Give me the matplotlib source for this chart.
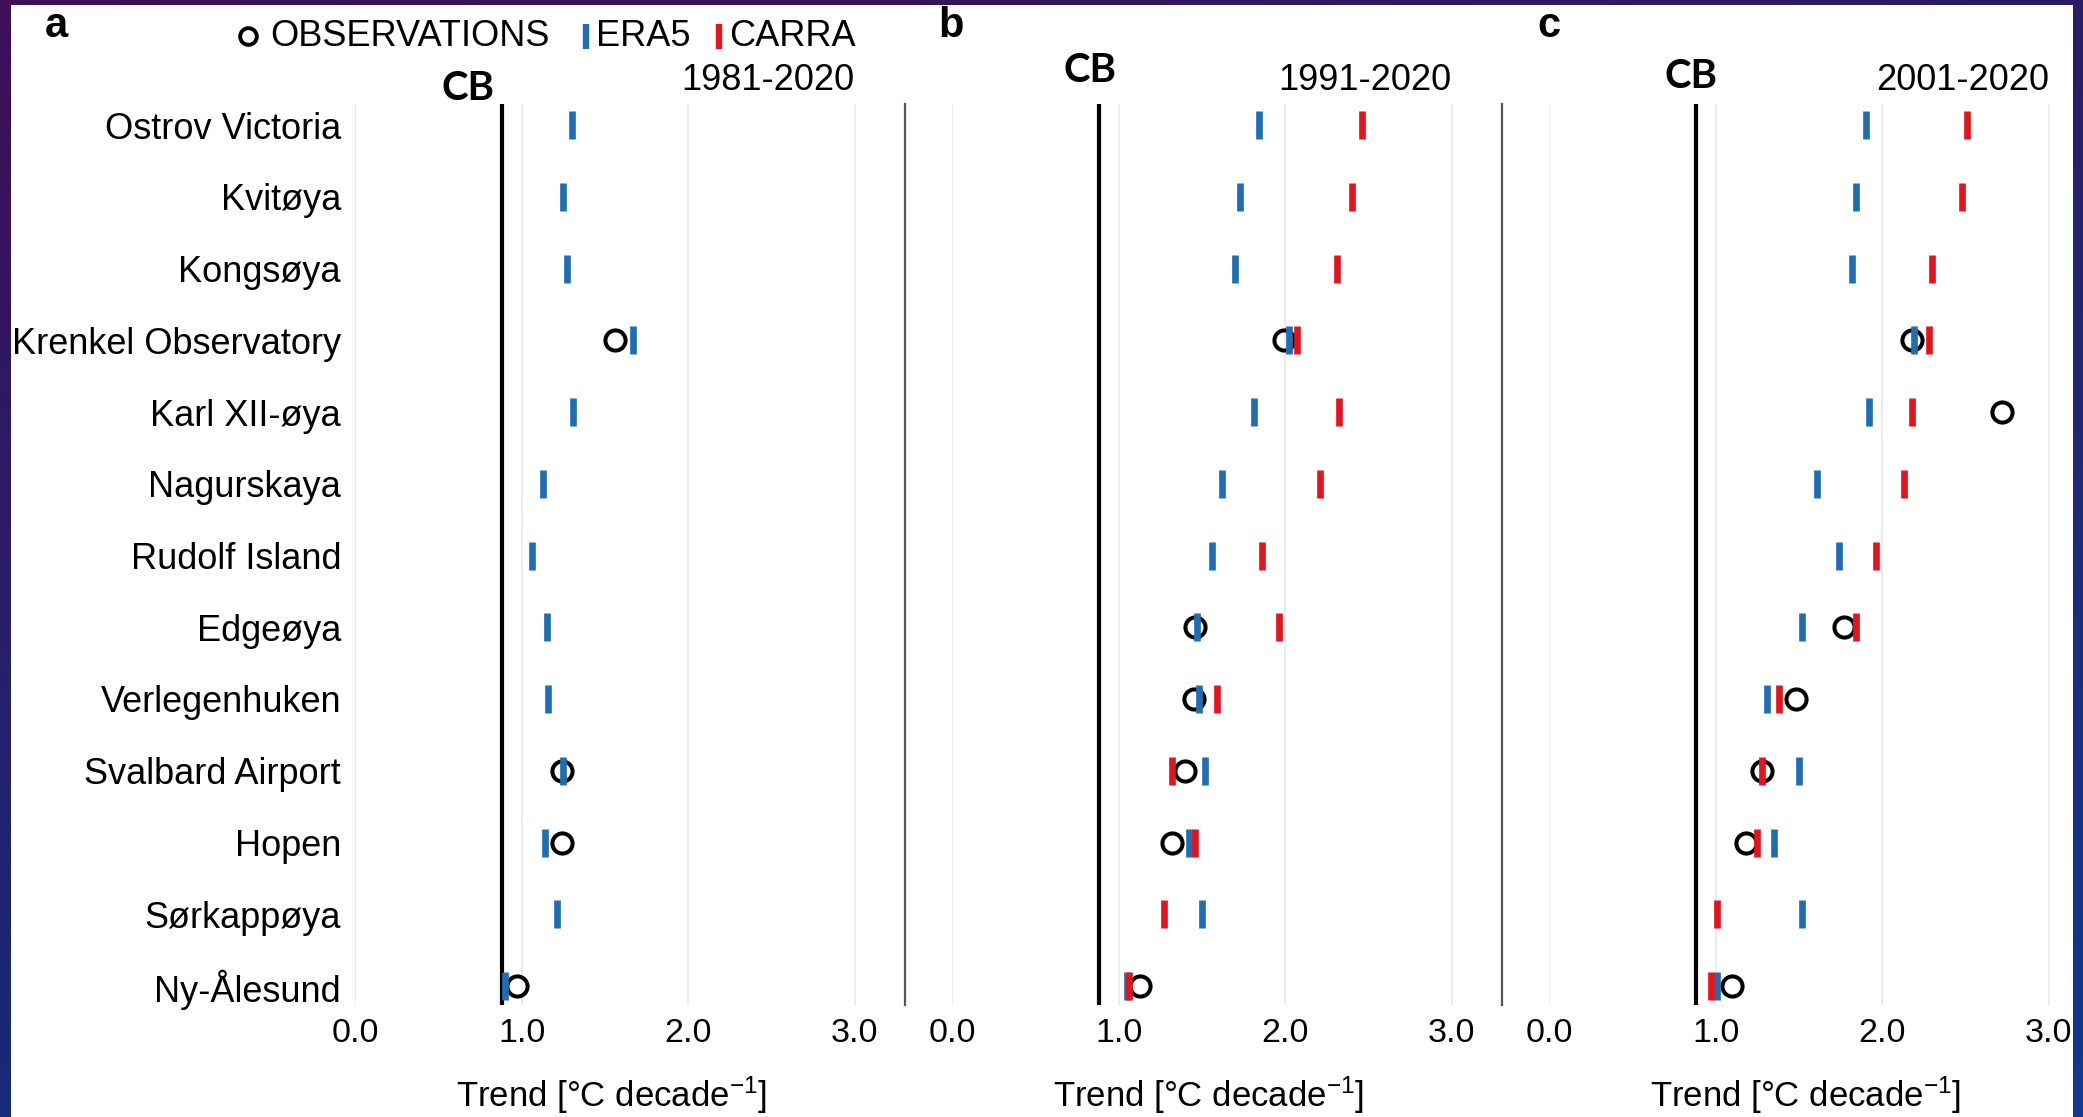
import numpy as np
import matplotlib
matplotlib.use("Agg")
import matplotlib.pyplot as plt
from matplotlib.patches import Rectangle

plt.rcParams['font.family'] = ['Liberation Sans', 'DejaVu Sans']
plt.rcParams['mathtext.fontset'] = 'custom'
plt.rcParams['mathtext.rm'] = 'Liberation Sans'
plt.rcParams['mathtext.default'] = 'regular'

# stations, top to bottom
stations = ["Ostrov Victoria", "Kvitøya", "Kongsøya", "Krenkel Observatory",
            "Karl XII-øya", "Nagurskaya", "Rudolf Island", "Edgeøya",
            "Verlegenhuken", "Svalbard Airport", "Hopen", "Sørkappøya",
            "Ny-Ålesund"]
periods = ["1981-2020", "1991-2020", "2001-2020"]
panel_letters = ["a", "b", "c"]
nan = np.nan

# trends in degC per decade
era5_a = [1.30, 1.25, 1.27, 1.67, 1.31, 1.13, 1.06, 1.15, 1.16, 1.25, 1.14, 1.21, 0.90]
carra_a = [nan] * 13
obs_a = [nan, nan, nan, 1.56, nan, nan, nan, nan, nan, 1.24, 1.24, nan, 0.97]

era5_b = [1.84, 1.73, 1.70, 2.02, 1.81, 1.62, 1.56, 1.47, 1.48, 1.52, 1.42, 1.50, 1.05]
carra_b = [2.46, 2.40, 2.31, 2.07, 2.32, 2.21, 1.86, 1.96, 1.59, 1.32, 1.46, 1.27, 1.06]
obs_b = [nan, nan, nan, 1.99, nan, nan, nan, 1.46, 1.45, 1.40, 1.32, nan, 1.13]

era5_c = [1.90, 1.84, 1.82, 2.19, 1.92, 1.61, 1.74, 1.52, 1.31, 1.50, 1.35, 1.52, 1.01]
carra_c = [2.51, 2.48, 2.30, 2.28, 2.18, 2.13, 1.96, 1.84, 1.38, 1.28, 1.25, 1.01, 0.97]
obs_c = [nan, nan, nan, 2.18, 2.72, nan, nan, 1.77, 1.48, 1.28, 1.18, nan, 1.10]

cb_trend = 0.88
xticks = [0.0, 1.0, 2.0, 3.0]

BLUE = "#1f6db3"
RED = "#e3141c"

W, H = 2083, 1117
fig = plt.figure(figsize=(W / 100, H / 100), dpi=100)

# slide background with a purple to navy gradient, chart on white
canvas = fig.add_axes([0, 0, 1, 1])
canvas.set_xlim(0, W)
canvas.set_ylim(H, 0)
canvas.axis('off')
tl = np.array([0x3d, 0x0f, 0x58]) / 255
tr = np.array([0x2b, 0x1d, 0x63]) / 255
bl = np.array([0x17, 0x2a, 0x78]) / 255
br = np.array([0x11, 0x3a, 0x8e]) / 255
u = np.linspace(0, 1, 120)[None, :, None]
v = np.linspace(0, 1, 60)[:, None, None]
grad = (1 - v) * ((1 - u) * tl + u * tr) + v * ((1 - u) * bl + u * br)
canvas.imshow(grad, extent=(0, W, H, 0), aspect='auto', zorder=0)
canvas.add_patch(Rectangle((11, 5), 2062, H, facecolor='white', edgecolor='none', zorder=1))

rows = np.arange(len(stations))
row_top, row_step = 125, 71.75
ax_top, ax_bot = 104, 1005
unit = 166.6
x_max = 3.3
lefts = [355, 952, 1549]

data = [(era5_a, carra_a, obs_a), (era5_b, carra_b, obs_b), (era5_c, carra_c, obs_c)]
cb_pos = [(468, 88), (1090, 70), (1691, 76)]

for i, (era5, carra, obs) in enumerate(data):
    ax = fig.add_axes([lefts[i] / W, (H - ax_bot) / H, x_max * unit / W, (ax_bot - ax_top) / H])
    ax.set_facecolor('none')
    ax.set_xlim(0, x_max)
    ax.set_ylim((ax_bot - row_top) / row_step, (ax_top - row_top) / row_step)
    ax.set_xticks(xticks)
    ax.set_xticklabels(["%.1f" % t for t in xticks], fontsize=24.5)
    ax.grid(axis='x', color='#ebebeb', lw=1.3, zorder=0)
    ax.tick_params(axis='x', length=0, pad=9)
    ax.set_yticks(rows)
    if i == 0:
        ax.set_yticklabels(stations, fontsize=26)
        ax.tick_params(axis='y', length=0, pad=10)
    else:
        ax.set_yticklabels([])
        ax.tick_params(axis='y', length=0)
    for s in ['left', 'top', 'bottom']:
        ax.spines[s].set_visible(False)
    ax.spines['right'].set_color('#555555')
    ax.spines['right'].set_linewidth(1.6)

    ax.axvline(cb_trend, color='black', lw=3.0, zorder=2)

    ax.plot(obs, rows, ls='none', marker='o', ms=14.5, mfc='none', mec='black', mew=2.9, zorder=3)
    ax.plot(era5, rows, ls='none', marker='|', ms=20, mew=4.8, color=BLUE, zorder=4)
    ax.plot(carra, rows, ls='none', marker='|', ms=20, mew=4.8, color=RED, zorder=5)

    ax.text(1.54, -0.1, "Trend [°C decade$^{-1}$]", fontsize=25,
            transform=ax.get_xaxis_transform(), ha='center', va='center')
    ax.text(3.0, 81, periods[i], fontsize=26, ha='right', va='center',
            transform=matplotlib.transforms.blended_transform_factory(ax.transData, canvas.transData))

    canvas.text(cb_pos[i][0], cb_pos[i][1], "CB", fontsize=29, fontweight='bold',
                family=['Lato', 'DejaVu Sans'], ha='center', va='center', zorder=6)

# panel letters
for letter, px in zip(panel_letters, [56, 951, 1549]):
    canvas.text(px, 26, letter, fontsize=30, fontweight='bold', ha='center', va='center', zorder=6)

# legend
canvas.plot([248], [36], ls='none', marker='o', ms=12, mfc='none', mec='black', mew=2.8, zorder=6)
canvas.text(270, 36, "OBSERVATIONS", fontsize=26, ha='left', va='center', zorder=6)
canvas.plot([586], [36], ls='none', marker='|', ms=18, mew=4.6, color=BLUE, zorder=6)
canvas.text(596, 36, "ERA5", fontsize=26, ha='left', va='center', zorder=6)
canvas.plot([719], [36], ls='none', marker='|', ms=18, mew=4.6, color=RED, zorder=6)
canvas.text(729, 36, "CARRA", fontsize=26, ha='left', va='center', zorder=6)

# right edge of the slide frame sits over the last panel
edge = fig.add_axes([2073 / W, 0, 10 / W, 1])
edge.axis('off')
col = (1 - v) * tr + v * br
edge.imshow(col, extent=(0, 1, 1, 0), aspect='auto')

fig.savefig("out.png", dpi=100)
